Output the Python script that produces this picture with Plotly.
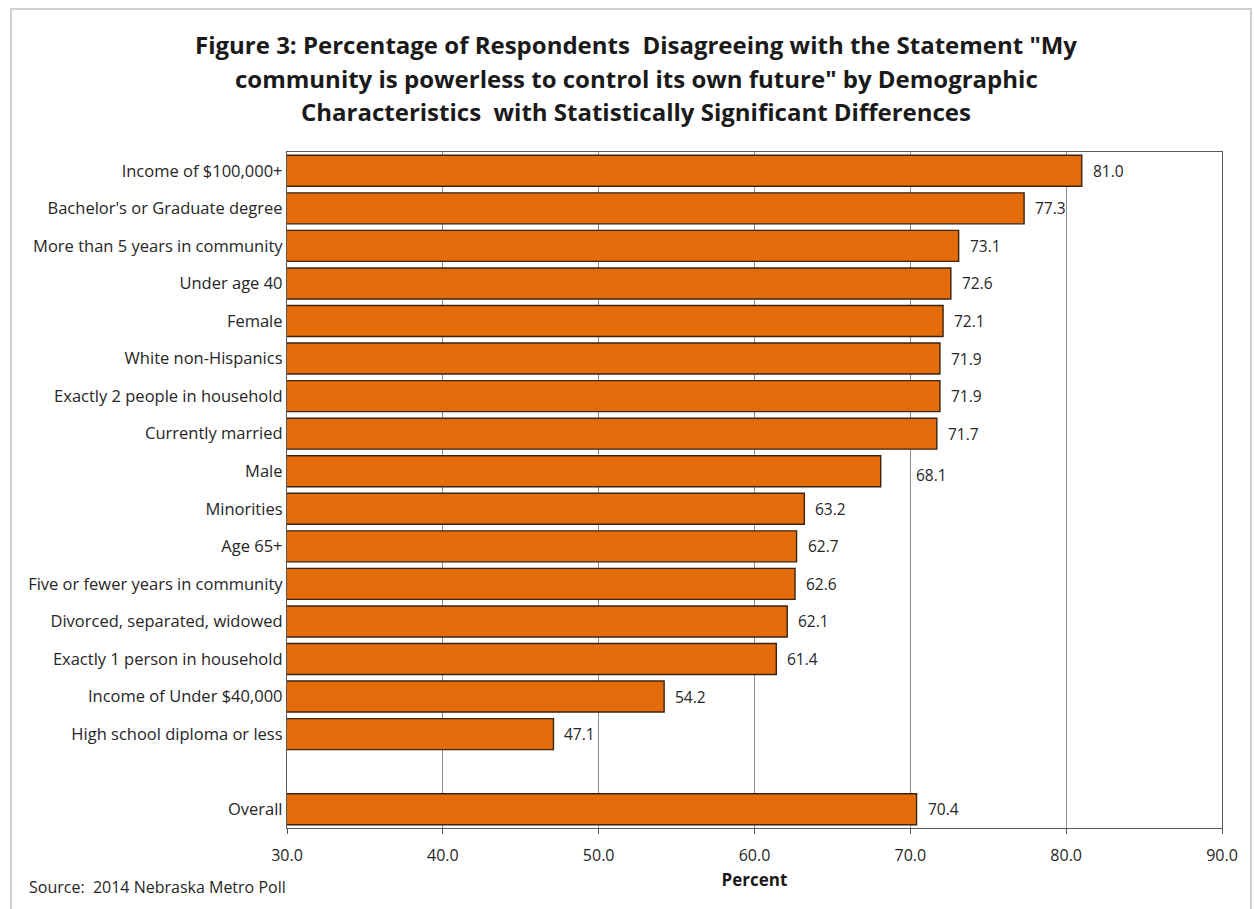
import plotly.graph_objects as go

# ---- data ----
categories = [
    "Income of $100,000+",
    "Bachelor's or Graduate degree",
    "More than 5 years in community",
    "Under age 40",
    "Female",
    "White non-Hispanics",
    "Exactly 2 people in household",
    "Currently married",
    "Male",
    "Minorities",
    "Age 65+",
    "Five or fewer years in community",
    "Divorced, separated, widowed",
    "Exactly 1 person in household",
    "Income of Under $40,000",
    "High school diploma or less",
    " ",
    "Overall",
]
values = [81.0, 77.3, 73.1, 72.6, 72.1, 71.9, 71.9, 71.7, 68.1, 63.2,
          62.7, 62.6, 62.1, 61.4, 54.2, 47.1, None, 70.4]
x_ticks = [30, 40, 50, 60, 70, 80, 90]

title_lines = [
    'Figure 3: Percentage of Respondents  Disagreeing with the Statement "My',
    'community is powerless to control its own future" by Demographic',
    'Characteristics  with Statistically Significant Differences',
]
source_text = "Source:  2014 Nebraska Metro Poll"

# ---- layout geometry (pixels) ----
W, H = 1254, 909
L, R, T, B = 287, 1222, 152, 828
PW, PH = R - L, B - T


def px(x):
    return (x - L) / PW


def py(y):
    return (B - y) / PH


FONT = "Open Sans"
TXT = "#262626"

fig = go.Figure()
fig.add_trace(go.Bar(
    x=values,
    y=categories,
    orientation="h",
    marker=dict(color="#E46C0A", line=dict(color="#3B2410", width=1.4)),
    hoverinfo="x+y",
))

annotations = []
# data labels
for c, v in zip(categories, values):
    if v is None:
        continue
    xs, ys = 9, 0
    if c == "Male":
        xs, ys = 33, -4
    annotations.append(dict(
        x=v, y=c, xref="x", yref="y", text=f"{v:.1f}", showarrow=False,
        xanchor="left", yanchor="middle", xshift=xs, yshift=ys,
        font=dict(family=FONT, size=15.5, color=TXT),
    ))

# title lines
for i, (line, ypix) in enumerate(zip(title_lines, [45, 78, 112])):
    annotations.append(dict(
        x=px(636), y=py(ypix), xref="paper", yref="paper",
        text=f"<b>{line}</b>", showarrow=False,
        xanchor="center", yanchor="middle",
        font=dict(family=FONT, size=24, color="#1a1a1a"),
    ))

# source
annotations.append(dict(
    x=px(27), y=py(887), xref="paper", yref="paper", text=source_text,
    showarrow=False, xanchor="left", yanchor="middle",
    font=dict(family=FONT, size=16, color=TXT),
))

shapes = [dict(
    type="rect", xref="paper", yref="paper",
    x0=px(11), x1=px(1251), y0=py(920), y1=py(9),
    line=dict(color="#d0d0d0", width=2), fillcolor="rgba(0,0,0,0)", layer="below",
)]

fig.update_layout(
    width=W, height=H,
    margin=dict(l=L, r=W - R, t=T, b=H - B, autoexpand=False),
    paper_bgcolor="white", plot_bgcolor="white",
    showlegend=False,
    bargap=0.175,
    annotations=annotations,
    shapes=shapes,
    font=dict(family=FONT, color=TXT),
)
fig.update_xaxes(
    range=[30, 90], tickvals=x_ticks, ticktext=[f"{t:.1f}" for t in x_ticks],
    showgrid=True, gridcolor="#8c8c8c", gridwidth=1,
    showline=True, linecolor="#595959", linewidth=1.3, mirror=True,
    ticks="outside", ticklen=5, tickcolor="#595959",
    ticklabelstandoff=8,
    tickfont=dict(family=FONT, size=16, color=TXT),
    title=dict(text="<b>Percent</b>", standoff=8,
               font=dict(family=FONT, size=17, color="#1a1a1a")),
    zeroline=False, fixedrange=True,
)
fig.update_yaxes(
    categoryorder="array", categoryarray=categories, autorange="reversed",
    showline=True, linecolor="#595959", linewidth=1.3, mirror=True,
    ticks="", tickfont=dict(family=FONT, size=16.5, color=TXT),
    showgrid=False, fixedrange=True,
)

fig.write_html("out.html")
